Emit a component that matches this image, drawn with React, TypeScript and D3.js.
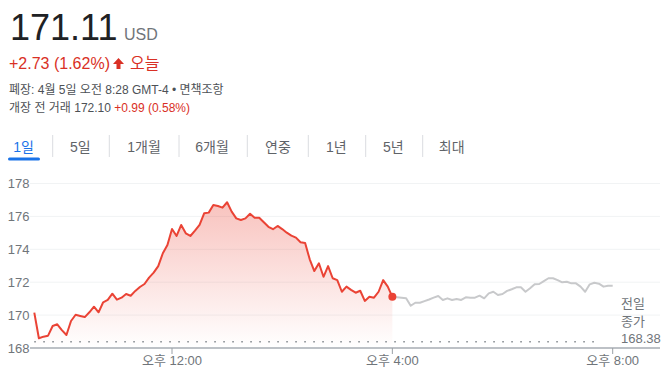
import React from "react";
import * as d3 from "d3";

// Regular session, 5-minute steps starting 9:30
const sessionValues = [
  170.15, 168.59, 168.69, 168.75, 169.34, 169.44, 169.09, 168.79, 169.64, 170.02,
  169.95, 169.88, 170.17, 170.51, 170.17, 170.78, 170.92, 171.3, 170.94, 171.06,
  171.28, 171.18, 171.47, 171.71, 171.89, 172.28, 172.58, 172.98, 173.76, 174.26,
  175.23, 174.81, 175.48, 174.97, 174.81, 175.13, 175.48, 176.19, 176.23, 176.69,
  176.63, 176.53, 176.86, 176.29, 175.88, 175.78, 175.88, 176.16, 175.92, 175.92,
  175.64, 175.37, 175.22, 175.42, 175.23, 175.01, 174.83, 174.71, 174.43, 174.38,
  173.39, 172.68, 173.15, 172.33, 172.98, 172.24, 172.13, 171.42, 171.73, 171.53,
  171.36, 171.48, 170.86, 171.12, 171.06, 171.42, 172.13, 171.73, 171.11,
];
// After hours, 5-minute steps starting 16:00
const afterValues = [
  171.11, 171.08, 171.05, 171.02, 170.57, 170.75, 170.75, 170.85, 170.95, 171.06,
  171.16, 170.92, 171.02, 170.92, 170.98, 170.92, 171.08, 171.06, 171.06, 171.18,
  171.02, 171.32, 171.42, 171.22, 171.28, 171.47, 171.57, 171.69, 171.69, 171.42,
  171.63, 171.87, 171.89, 172.07, 172.24, 172.24, 172.13, 171.99, 172.03, 171.93,
  171.93, 171.73, 171.42, 171.87, 171.97, 171.91, 171.73, 171.79, 171.79,
];
const yTicks = [168, 170, 172, 174, 176, 178];
const xTicks = [720, 960, 1200]; // minutes from midnight
const xTickLabels = ["오후 12:00", "오후 4:00", "오후 8:00"];
const tabs = ["1일", "5일", "1개월", "6개월", "연중", "1년", "5년", "최대"];
const tabCenters = [23.5, 80.3, 144, 212, 278, 336.3, 393.3, 451.7];
const tabSeparators = [52.7, 109.3, 179, 247.3, 308.3, 365.7, 422.7];
const prevClose = 168.38;
const sessionStart = 570;
const afterStart = 960;
const step = 5;

const FONT = "Arial, 'Liberation Sans', 'Noto Sans CJK KR', sans-serif";
const GRAY = "#70757a";
const RED = "#d93025";
const LINE_RED = "#ea4335";

export default function App() {
  const x = d3.scaleLinear().domain([570, 1200]).range([34.3, 612.7]);
  const y = d3.scaleLinear().domain([168, 178]).range([348, 183.5]);

  const session = sessionValues.map((v, i) => ({ t: sessionStart + i * step, v }));
  const after = afterValues.map((v, i) => ({ t: afterStart + i * step, v }));

  const line = d3
    .line<{ t: number; v: number }>()
    .x((d) => x(d.t))
    .y((d) => y(d.v));
  const area = d3
    .area<{ t: number; v: number }>()
    .x((d) => x(d.t))
    .y0(y(168))
    .y1((d) => y(d.v));

  const last = session[session.length - 1];
  const topY = y(d3.max(sessionValues) as number);

  return (
    <svg
      width={670}
      height={383}
      style={{ position: "absolute", left: 0, top: 0, background: "#fff" }}
      fontFamily={FONT}
    >
      <defs>
        <linearGradient id="redFill" x1="0" y1={topY} x2="0" y2={y(168)} gradientUnits="userSpaceOnUse">
          <stop offset="0" stopColor="#ea4335" stopOpacity={0.32} />
          <stop offset="1" stopColor="#ea4335" stopOpacity={0.0} />
        </linearGradient>
      </defs>

      {/* Header */}
      <text x={10} y={39.5} fontSize={36} fill="#202124">171.11</text>
      <text x={124} y={39.5} fontSize={16} fill={GRAY}>USD</text>
      <text x={9} y={68.5} fontSize={16} fill={RED}>+2.73 (1.62%)</text>
      <path d="M118.5,58 L124,64 L120.5,64 L120.5,69 L116.5,69 L116.5,64 L113,64 Z" fill={RED} />
      <text x={130} y={68.5} fontSize={16} fill={RED}>오늘</text>
      <text x={9} y={94} fontSize={12} fill="#4d5156">폐장: 4월 5일 오전 8:28 GMT-4 • 면책조항</text>
      <text x={9} y={111.5} fontSize={12} fill="#4d5156">
        개장 전 거래 172.10 <tspan fill={RED}>+0.99 (0.58%)</tspan>
      </text>

      {/* Tabs */}
      {tabs.map((t, i) => (
        <text
          key={t}
          x={tabCenters[i]}
          y={151.5}
          fontSize={14}
          textAnchor="middle"
          fill={i === 0 ? "#1a73e8" : "#5f6368"}
        >
          {t}
        </text>
      ))}
      {tabSeparators.map((s) => (
        <line key={s} x1={s} x2={s} y1={135} y2={157} stroke="#dadce0" strokeWidth={1} />
      ))}
      <rect x={8} y={157.5} width={32} height={3} rx={1.5} fill="#1a73e8" />

      {/* Grid */}
      {yTicks.slice(1).map((t) => (
        <line key={t} x1={30} x2={660} y1={y(t)} y2={y(t)} stroke="#f1f3f4" strokeWidth={1} />
      ))}
      {yTicks.map((t) => (
        <text key={t} x={29.5} y={y(t) + 4.5} fontSize={13} textAnchor="end" fill={GRAY}>
          {t}
        </text>
      ))}

      {/* Area & lines */}
      <path d={area(session) || ""} fill="url(#redFill)" />
      <line
        x1={x(sessionStart)}
        x2={x(1185)}
        y1={y(prevClose)}
        y2={y(prevClose)}
        stroke="#80868b"
        strokeWidth={1.5}
        strokeDasharray="1.5 7.5"
      />
      <path d={line(after) || ""} fill="none" stroke="#c8c9cb" strokeWidth={2} strokeLinejoin="round" />
      <path d={line(session) || ""} fill="none" stroke={LINE_RED} strokeWidth={2} strokeLinejoin="round" />
      <circle cx={x(last.t)} cy={y(last.v)} r={4} fill={LINE_RED} />

      {/* Axis */}
      <line x1={30} x2={660} y1={y(168)} y2={y(168)} stroke="#bdc1c6" strokeWidth={2} />
      {xTicks.map((t, i) => (
        <g key={t}>
          <line x1={x(t)} x2={x(t)} y1={y(168)} y2={y(168) + 6} stroke="#9aa0a6" strokeWidth={1} />
          <text x={x(t)} y={365} fontSize={13} textAnchor="middle" fill={GRAY}>
            {xTickLabels[i]}
          </text>
        </g>
      ))}

      {/* Prev close label */}
      <text x={621} y={308} fontSize={13} fill={GRAY}>전일</text>
      <text x={621} y={326} fontSize={13} fill={GRAY}>종가</text>
      <text x={621} y={342.5} fontSize={13} fill={GRAY}>{prevClose.toFixed(2)}</text>
    </svg>
  );
}
